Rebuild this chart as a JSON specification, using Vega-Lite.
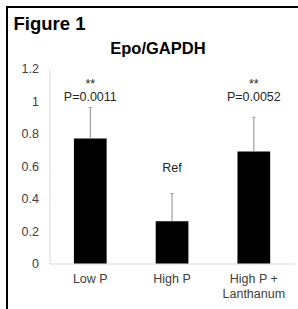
{
  "$schema": "https://vega.github.io/schema/vega-lite/v6.json",
  "width": 291,
  "height": 302,
  "autosize": {"type": "none"},
  "padding": {"left": 7, "top": 7, "right": 0, "bottom": 0},
  "background": "white",
  "config": {
    "view": {"stroke": "black", "strokeWidth": 2, "strokeDash": [291, 593, 302, 10]},
    "font": "Liberation Sans",
    "text": {"font": "Liberation Sans"},
    "axisY": {
      "grid": false,
      "ticks": false,
      "domainColor": "#d9d9d9",
      "labelFont": "Liberation Sans",
      "labelFontSize": 12.5,
      "labelColor": "#404040",
      "labelPadding": 11,
      "offset": -42.4,
      "titleAngle": 0,
      "titleX": 108,
      "titleY": 46,
      "titleAlign": "center",
      "titleBaseline": "alphabetic",
      "titleFont": "Liberation Sans",
      "titleFontSize": 16.5,
      "titleFontWeight": "bold",
      "titleColor": "black"
    }
  },
  "data": {
    "values": [
      {"cat": "Low P", "value": 0.77, "upper": 0.96},
      {"cat": "High P", "value": 0.26, "upper": 0.43},
      {"cat": "High P + Lanthanum", "value": 0.69, "upper": 0.9}
    ]
  },
  "encoding": {
    "x": {
      "field": "cat",
      "type": "nominal",
      "sort": ["Low P", "High P", "High P + Lanthanum"],
      "scale": {"range": [42.4, 287.7], "paddingInner": 0.6, "paddingOuter": 0.3},
      "axis": {
        "title": "Figure 1",
        "titleX": 6,
        "titleY": -234.2,
        "titleAlign": "left",
        "titleBaseline": "alphabetic",
        "titleFontSize": 18.5,
        "titleFontWeight": "bold",
        "titleColor": "black",
        "titleFont": "Liberation Sans",
        "offset": -45.5,
        "ticks": false,
        "domainColor": "#d9d9d9",
        "labelAngle": 0,
        "labelFont": "Liberation Sans",
        "labelFontSize": 12.5,
        "labelColor": "#404040",
        "labelPadding": 9,
        "labelLineHeight": 14.5,
        "labelExpr": "datum.value == 'High P + Lanthanum' ? ['High P +', 'Lanthanum'] : datum.value"
      }
    },
    "y": {
      "field": "value",
      "type": "quantitative",
      "scale": {"domain": [0, 1.2], "range": [256.5, 61.5], "nice": false, "zero": true},
      "axis": {"title": "Epo/GAPDH", "values": [0, 0.2, 0.4, 0.6, 0.8, 1, 1.2], "format": "~g"}
    }
  },
  "layer": [
    {
      "mark": {"type": "bar", "color": "black"}
    },
    {
      "mark": {"type": "rule", "color": "#8c8c8c", "strokeWidth": 1},
      "encoding": {
        "y2": {"field": "upper"}
      }
    },
    {
      "mark": {"type": "tick", "color": "#8c8c8c", "thickness": 1, "size": 4, "orient": "horizontal"},
      "encoding": {
        "y": {
          "field": "upper",
          "type": "quantitative",
          "axis": {"title": "Epo/GAPDH", "values": [0, 0.2, 0.4, 0.6, 0.8, 1, 1.2], "format": "~g"}
        }
      }
    },
    {
      "data": {
        "values": [
          {"cat": "Low P", "label": "**", "value": 1.08},
          {"cat": "Low P", "label": "P=0.0011", "value": 0.997},
          {"cat": "High P", "label": "Ref", "value": 0.565},
          {"cat": "High P + Lanthanum", "label": "**", "value": 1.08},
          {"cat": "High P + Lanthanum", "label": "P=0.0052", "value": 0.997}
        ]
      },
      "mark": {"type": "text", "fontSize": 12.5, "color": "#262626", "baseline": "alphabetic", "align": "center", "font": "Liberation Sans"},
      "encoding": {
        "text": {"field": "label"}
      }
    }
  ]
}
